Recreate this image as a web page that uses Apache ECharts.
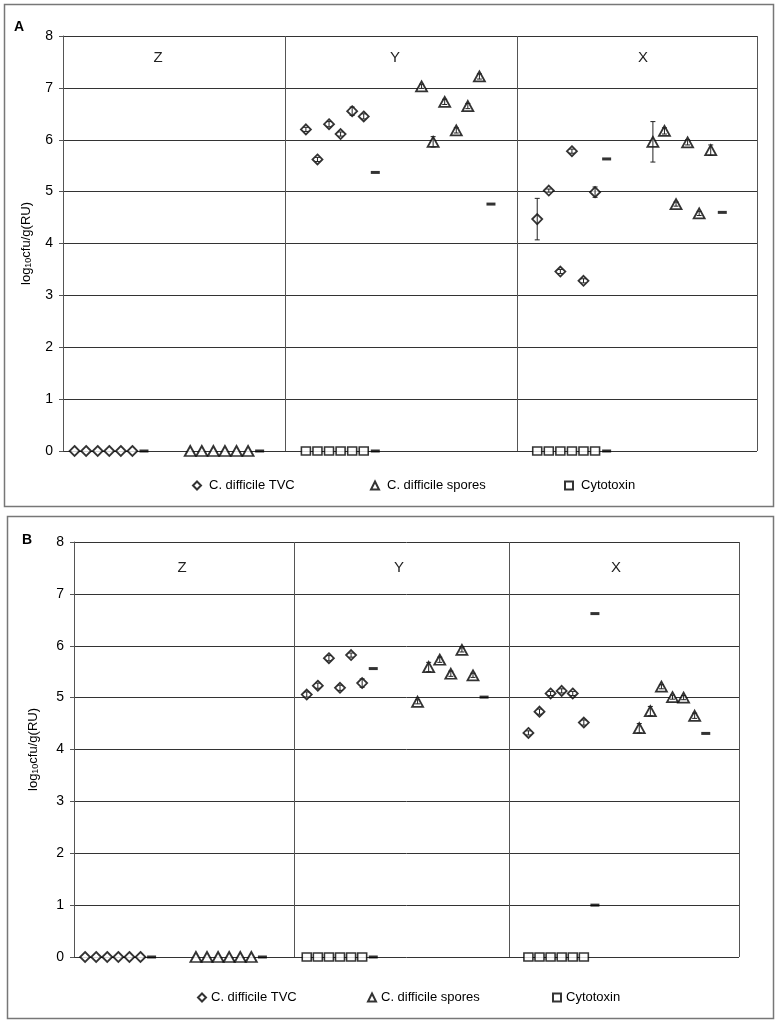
<!DOCTYPE html>
<html>
<head>
<meta charset="utf-8">
<script src="https://cdn.jsdelivr.net/npm/echarts@6/dist/echarts.min.js"></script>
<style>
  html, body { margin: 0; padding: 0; background: #fff; }
  #chart { width: 782px; height: 1024px; }
</style>
</head>
<body>
<div id="chart"></div>
<script>
// sections left to right, six samples each
const sections = ["Z", "Y", "X"];
const yTicks = [0, 1, 2, 3, 4, 5, 6, 7, 8];

// panel A (log10 cfu/g)
const tvcA = [
  [0, 0, 0, 0, 0, 0],
  [6.2, 5.62, 6.3, 6.11, 6.55, 6.45],
  [4.47, 5.02, 3.46, 5.78, 3.28, 4.99],
];
const tvcErrA = [
  [0, 0, 0, 0, 0, 0],
  [0.04, 0.04, 0.05, 0.04, 0.08, 0.05],
  [0.4, 0.03, 0.04, 0.04, 0.04, 0.1],
];
const sporesA = [
  [0, 0, 0, 0, 0, 0],
  [7.03, 5.96, 6.73, 6.18, 6.65, 7.22],
  [5.96, 6.17, 4.76, 5.95, 4.58, 5.8],
];
const sporesErrA = [
  [0, 0, 0, 0, 0, 0],
  [0.04, 0.1, 0.05, 0.05, 0.05, 0.05],
  [0.39, 0.06, 0.04, 0.05, 0.04, 0.1],
];
const cytoA = [null, [0, 0, 0, 0, 0, 0], [0, 0, 0, 0, 0, 0]];
const tvcMedA = [0, 5.37, 5.63];
const sporesMedA = [0, 4.76, 4.6];
const cytoMedA = [null, 0, 0];

// panel B
const tvcB = [
  [0, 0, 0, 0, 0, 0],
  [5.06, 5.23, 5.76, 5.19, 5.82, 5.28],
  [4.32, 4.73, 5.08, 5.13, 5.08, 4.52],
];
const tvcErrB = [
  [0, 0, 0, 0, 0, 0],
  [0.05, 0.05, 0.05, 0.05, 0.04, 0.08],
  [0.04, 0.05, 0.04, 0.04, 0.04, 0.05],
];
const sporesB = [
  [0, 0, 0, 0, 0, 0],
  [4.92, 5.59, 5.73, 5.46, 5.92, 5.43],
  [4.41, 4.74, 5.21, 5.01, 5.0, 4.65],
];
const sporesErrB = [
  [0, 0, 0, 0, 0, 0],
  [0.04, 0.09, 0.05, 0.05, 0.04, 0.04],
  [0.09, 0.09, 0.04, 0.04, 0.04, 0.05],
];
const cytoB = [null, [0, 0, 0, 0, 0, 0], [0, 0, 0, 0, 0, 0]];
const tvcMedB = [0, 5.56, 6.62];
const sporesMedB = [0, 5.01, 4.31];
const cytoMedB = [null, 0, 1.0];

const NAMES = ["C. difficile TVC", "C. difficile spores", "Cytotoxin"];
const FONT = "Liberation Sans, Arial, sans-serif";

// x slot: each section is 20 wide, first group at 1..6, second at 11..16
function pts(groups, start) {
  const out = [];
  groups.forEach((vals, s) => {
    if (!vals) return;
    vals.forEach((v, i) => out.push([s * 20 + start + i, v]));
  });
  return out;
}
function errPts(groups, errs, start) {
  const out = [];
  groups.forEach((vals, s) => {
    if (!vals) return;
    vals.forEach((v, i) => {
      if (errs[s][i] > 0) out.push([s * 20 + start + i, v, errs[s][i]]);
    });
  });
  return out;
}
function medPts(meds, start) {
  const out = [];
  meds.forEach((v, s) => {
    if (v !== null) out.push([s * 20 + start, v]);
  });
  return out;
}

function renderErr(params, api) {
  const x = api.value(0), y = api.value(1), e = api.value(2);
  const top = api.coord([x, y + e]);
  const bot = api.coord([x, y - e]);
  const w = 2.5;
  const st = { stroke: "#222", lineWidth: 1 };
  return {
    type: "group",
    children: [
      { type: "line", shape: { x1: top[0], y1: top[1], x2: bot[0], y2: bot[1] }, style: st },
      { type: "line", shape: { x1: top[0] - w, y1: top[1], x2: top[0] + w, y2: top[1] }, style: st },
      { type: "line", shape: { x1: bot[0] - w, y1: bot[1], x2: bot[0] + w, y2: bot[1] }, style: st },
    ],
  };
}

const hollow = { color: "#fff", borderColor: "#000", borderWidth: 1.8 };

function panelSeries(g, tvc, tvcErr, spores, sporesErr, cyto, mT, mS, mC, dividers) {
  const meds = medPts(mT, 7).concat(medPts(mS, 17)).concat(medPts(mC, 7));
  return [
    {
      name: "median",
      type: "scatter",
      xAxisIndex: g,
      yAxisIndex: g,
      symbol: "rect",
      symbolSize: [9, 3],
      itemStyle: { color: "#000" },
      data: meds,
      z: 3,
      markLine: {
        silent: true,
        symbol: "none",
        label: { show: false },
        lineStyle: { color: "#555", type: "solid", width: 1 },
        data: dividers.concat([60]).map((x) => ({ xAxis: x })),
      },
    },
    {
      name: NAMES[2],
      type: "scatter",
      xAxisIndex: g,
      yAxisIndex: g,
      symbol: "rect",
      symbolSize: [9, 8],
      itemStyle: { color: "#fff", borderColor: "#000", borderWidth: 1.5 },
      data: pts(cyto, 1),
      z: 4,
    },
    {
      name: NAMES[0],
      type: "scatter",
      xAxisIndex: g,
      yAxisIndex: g,
      symbol: "diamond",
      symbolSize: [10, 10],
      itemStyle: hollow,
      data: pts(tvc, 1),
      z: 4,
    },
    {
      name: NAMES[1],
      type: "scatter",
      xAxisIndex: g,
      yAxisIndex: g,
      symbol: "triangle",
      symbolSize: [11, 10],
      itemStyle: hollow,
      data: pts(spores, 11),
      z: 4,
    },
    {
      type: "custom",
      xAxisIndex: g,
      yAxisIndex: g,
      renderItem: renderErr,
      encode: { x: 0, y: 1 },
      data: errPts(tvc, tvcErr, 1).concat(errPts(spores, sporesErr, 11)),
      silent: true,
      z: 5,
    },
  ];
}

function yAxisFor(g, gap) {
  return {
    gridIndex: g,
    type: "value",
    min: yTicks[0],
    max: yTicks[yTicks.length - 1],
    interval: 1,
    name: "{a|log}{b|10}{a|cfu/g(RU)}",
    nameLocation: "middle",
    nameGap: gap,
    nameTextStyle: {
      rich: {
        a: { fontSize: 13, color: "#000", fontFamily: FONT, lineHeight: 16, verticalAlign: "bottom" },
        b: { fontSize: 9, color: "#000", fontFamily: FONT, lineHeight: 10, verticalAlign: "bottom" },
      },
    },
    axisLine: { show: true, lineStyle: { color: "#555", width: 1 } },
    axisTick: { show: true, length: 4, lineStyle: { color: "#555" } },
    axisLabel: { fontSize: 14, color: "#000", margin: 10, fontFamily: FONT },
    splitLine: { show: true, lineStyle: { color: "#333", width: 1 } },
  };
}

function legendsFor(top, lefts, pad) {
  return NAMES.map((n, i) => ({
    data: [n],
    left: lefts[i],
    top: top,
    itemWidth: 8,
    itemHeight: 8,
    selectedMode: false,
    textStyle: { fontSize: 13, color: "#000", fontFamily: FONT, padding: [0, 0, 0, pad] },
  }));
}

function sectionText(xs, y) {
  return sections.map((s, i) => ({
    type: "text",
    x: xs[i],
    y: y,
    style: { text: s, fontSize: 15, fill: "#222", fontFamily: FONT, align: "center", verticalAlign: "middle" },
  }));
}

const chart = echarts.init(document.getElementById("chart"), null, { renderer: "canvas" });
chart.setOption({
  animation: false,
  backgroundColor: "#fff",
  textStyle: { fontFamily: FONT },
  grid: [
    { left: 63, top: 36, width: 694, height: 415 },
    { left: 74, top: 542, width: 665, height: 415 },
  ],
  xAxis: [
    { gridIndex: 0, type: "value", min: 0, max: 60, show: false },
    { gridIndex: 1, type: "value", min: 0, max: 60, show: false },
  ],
  yAxis: [yAxisFor(0, 30), yAxisFor(1, 34)],
  legend: legendsFor(474, [187, 365, 559], 3).concat(legendsFor(986, [192, 362, 547], 0)),
  graphic: [
    { type: "rect", shape: { x: 4.5, y: 4.5, width: 769, height: 502 }, style: { fill: "none", stroke: "#777", lineWidth: 1.5 }, z: -1 },
    { type: "rect", shape: { x: 7.5, y: 516.5, width: 766, height: 502 }, style: { fill: "none", stroke: "#777", lineWidth: 1.5 }, z: -1 },
    { type: "text", x: 14, y: 20, style: { text: "A", fontSize: 14, fontWeight: "bold", fill: "#000", fontFamily: FONT } },
    { type: "text", x: 22, y: 533, style: { text: "B", fontSize: 14, fontWeight: "bold", fill: "#000", fontFamily: FONT } },
  ]
    .concat(sectionText([158, 395, 643], 58))
    .concat(sectionText([182, 399, 616], 568)),
  series: panelSeries(0, tvcA, tvcErrA, sporesA, sporesErrA, cytoA, tvcMedA, sporesMedA, cytoMedA, [19.2, 39.3])
    .concat(panelSeries(1, tvcB, tvcErrB, sporesB, sporesErrB, cytoB, tvcMedB, sporesMedB, cytoMedB, [19.85, 39.3])),
});
</script>
</body>
</html>
